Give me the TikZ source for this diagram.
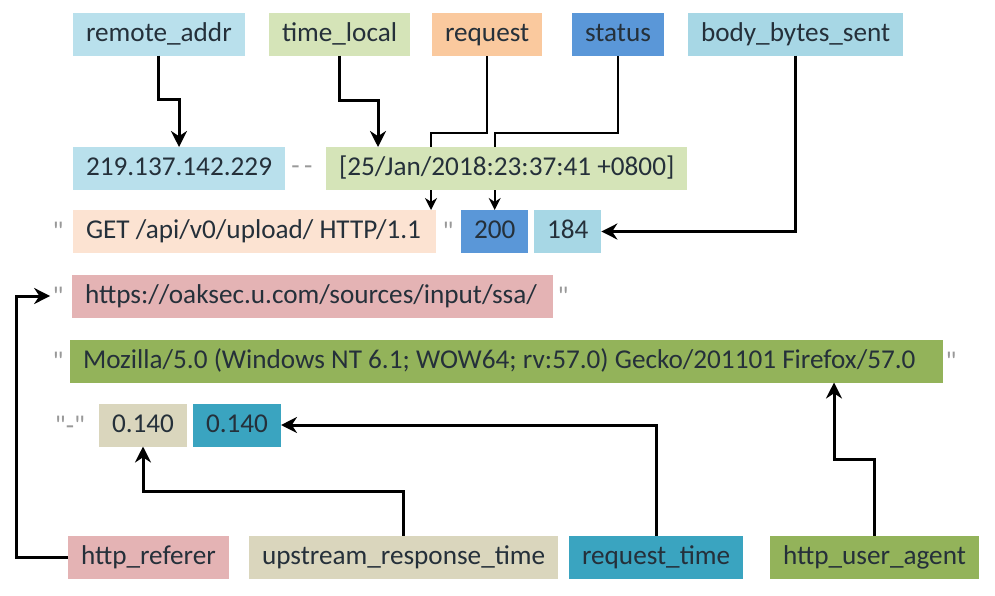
\documentclass[tikz,border=0pt]{standalone}
\usepackage{fontspec}
\setmainfont{Carlito}
\usetikzlibrary{arrows.meta,backgrounds}
\definecolor{addrblue}{HTML}{B9E0EC}
\definecolor{timegreen}{HTML}{D5E4B8}
\definecolor{reqorange}{HTML}{FAC99E}
\definecolor{getpeach}{HTML}{FCE3D2}
\definecolor{statusblue}{HTML}{5A97D8}
\definecolor{bytesblue}{HTML}{A7D7E5}
\definecolor{refpink}{HTML}{E4B3B4}
\definecolor{agentgreen}{HTML}{93B35A}
\definecolor{upkhaki}{HTML}{DAD6BD}
\definecolor{rtteal}{HTML}{3AA4C0}
\definecolor{inktext}{HTML}{25303A}
\newcommand{\qm}{\textquotedbl}
\newcommand{\lbox}[2]{\makebox[#1][l]{#2}}
\begin{document}
\begin{tikzpicture}[x=0.5pt, y=-0.5pt,
  every node/.style={font=\fontsize{13.6}{16}\selectfont, text=inktext},
  box/.style={anchor=west, inner xsep=6.5pt, inner ysep=0pt, text height=10pt, text depth=3pt,
    minimum height=21.5pt, outer sep=0pt},
  quot/.style={text=gray!80, inner sep=1pt},
  arr/.style={line width=1.5pt, -{Stealth[length=8pt, width=8pt]}},
  thinarr/.style={line width=1pt, -{Stealth[length=6pt, width=6pt]}}]
  \useasboundingbox (0,0) rectangle (995,595);
  %% field names on top
  \node[box, fill=addrblue]   (remote) at (73, 34)  {remote\_addr};
  \node[box, fill=timegreen]  (tlocal) at (269, 34) {time\_local};
  \node[box, fill=reqorange]  (req)    at (432, 34) {request};
  \node[box, fill=statusblue] (status) at (572, 34) {status};
  \node[box, fill=bytesblue]  (body)   at (688, 34) {body\_bytes\_sent};
  %% the log line
  % first line
  \node[box, fill=addrblue]  (ip)    at (73, 168.5)  {219.137.142.229};
  \node[quot]                (dash)  at (302, 170)   {-\,-};
  \node[box, fill=timegreen] (tval)  at (326, 168.5) {\lbox{167.5pt}{[25/Jan/2018:23:37:41 +0800]}};
  % second line
  \node[quot]                 (q3a)   at (58, 231)    {\qm};
  \node[box, fill=getpeach]   (get)   at (73, 231.5)  {\lbox{168.5pt}{GET /api/v0/upload/ HTTP/1.1}};
  \node[quot]                 (q3b)   at (448, 231)   {\qm};
  \node[box, fill=statusblue] (code)  at (461, 231.5) {200};
  \node[box, fill=bytesblue]  (bytes) at (534, 231.5) {184};
  % third line
  \node[quot]                (q4a) at (58, 296)    {\qm};
  \node[box, fill=refpink]   (url) at (72, 296.5)  {\lbox{227.5pt}{https://oaksec.u.com/sources/input/ssa/}};
  \node[quot]                (q4b) at (563, 296)   {\qm};
  % fourth line
  \node[quot]                 (q5a) at (58, 361)   {\qm};
  \node[box, fill=agentgreen] (moz) at (70, 361)   {\lbox{423.5pt}{Mozilla/5.0 (Windows NT 6.1; WOW64; rv:57.0) Gecko/201101 Firefox/57.0}};
  \node[quot]                 (q5b) at (951, 361)  {\qm};
  % fifth line
  \node[quot]              (q6)  at (70, 425)  {\qm-\qm};
  \node[box, fill=upkhaki] (up)  at (99, 425)  {0.140};
  \node[box, fill=rtteal]  (rt)  at (193, 425) {0.140};
  %% field names at the bottom
  \node[box, fill=refpink]    (referer) at (68, 557)  {http\_referer};
  \node[box, fill=upkhaki]    (ups)     at (249, 557) {upstream\_response\_time};
  \node[box, fill=rtteal]     (rtime)   at (569, 557) {request\_time};
  \node[box, fill=agentgreen] (agent)   at (770, 557) {http\_user\_agent};
  %% connectors
  \draw[arr] (remote.south) -- ++(0,44) -| (ip.north);
  \draw[arr] (tlocal.south) -- ++(0,45) -| ([xshift=26pt]tval.north west);
  \begin{scope}[on background layer]
    \draw[thinarr] (req.south) -- ++(0,77) -| ([xshift=-2.5pt]get.north east);
    \draw[thinarr] (status.south) -- ++(0,77) -| (code.north);
  \end{scope}
  \draw[arr] (body.south) |- (bytes.east);
  \draw[arr] (referer.west) -- ++(-52,0) |- (q4a.west);
  \draw[arr] (ups.north) -- ++(0,-44) -| (up.south);
  \draw[arr] (rtime.north) |- (rt.east);
  \draw[arr] (agent.north) -- ++(0,-76) -| ([xshift=-54.5pt]moz.south east);
\end{tikzpicture}
\end{document}
